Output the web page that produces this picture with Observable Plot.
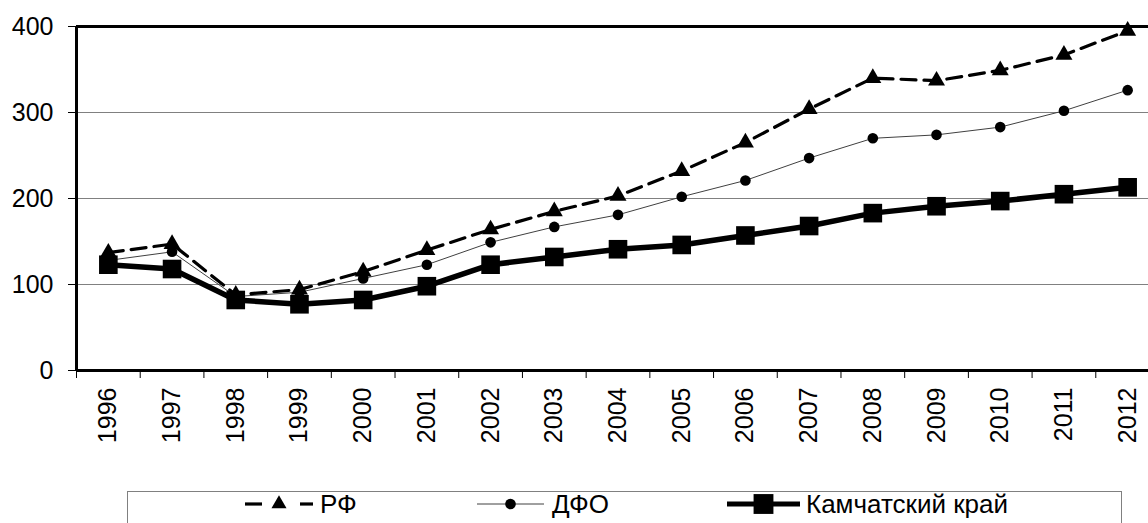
<!DOCTYPE html>
<html>
<head>
<meta charset="utf-8">
<script src="https://cdn.jsdelivr.net/npm/d3@7"></script>
<script src="https://cdn.jsdelivr.net/npm/@observablehq/plot@0.6"></script>
<style>
  html, body { margin: 0; padding: 0; background: #fff; overflow: hidden; }
  body { width: 1148px; height: 523px; position: relative; font-family: "Liberation Sans", Arial, sans-serif; color: #000; }
  #legend { position: absolute; left: 127px; top: 491px; width: 995px; height: 60px; border: 1px solid #808080; box-sizing: border-box; }
  .item { position: absolute; top: 0; height: 24px; display: flex; align-items: center; font-size: 26px; }
  .item svg { display: block; }
</style>
</head>
<body>
<div id="chart"></div>
<div id="legend"></div>
<script>
const years = [1996,1997,1998,1999,2000,2001,2002,2003,2004,2005,2006,2007,2008,2009,2010,2011,2012];
const rf   = [137,147,88,94,115,140,164,185,203,232,265,304,340,337,349,367,395];
const dfo  = [128,138,86,91,107,123,149,167,181,202,221,247,270,274,283,302,326];
const kam  = [123,118,82,77,82,98,123,132,141,146,157,168,183,191,197,205,213];
const seriesNames = ["РФ", "ДФО", "Камчатский край"];
const yTicks = [0,100,200,300,400];
const gridValues = [100,200,300];

const rows = (vals) => years.map((y, i) => ({year: y, value: vals[i]}));
const rfRows = rows(rf), dfoRows = rows(dfo), kamRows = rows(kam);
const bounds = [years[0] - 0.5, ...years.map(y => y + 0.5)];

const chart = Plot.plot({
  width: 1148,
  height: 480,
  marginLeft: 76,
  marginRight: 0,
  marginTop: 26,
  marginBottom: 110,
  style: {fontFamily: "'Liberation Sans', Arial, sans-serif", color: "#000", background: "#fff", overflow: "hidden"},
  x: {type: "linear", domain: [bounds[0], bounds[bounds.length - 1]], range: [76, 1159]},
  y: {domain: [0, 400]},
  marks: [
    Plot.ruleY(gridValues, {stroke: "#808080", strokeWidth: 1}),
    Plot.axisY({ticks: yTicks, tickSize: 8, tickPadding: 15, fontSize: 25, tickFormat: d => String(d), label: null}),
    Plot.axisX({ticks: bounds, tickSize: 8, tickFormat: () => "", label: null}),
    Plot.axisX({ticks: years, tickSize: 0, tickPadding: 17, tickRotate: -90, fontSize: 25, tickFormat: d => String(d), label: null}),
    Plot.line(dfoRows, {x: "year", y: "value", stroke: "#404040", strokeWidth: 1}),
    Plot.line(rfRows, {x: "year", y: "value", stroke: "#000", strokeWidth: 3.2, strokeDasharray: "15,8"}),
    Plot.line(kamRows, {x: "year", y: "value", stroke: "#000", strokeWidth: 5.5}),
    Plot.dot(dfoRows, {x: "year", y: "value", symbol: "circle", r: 5.3, fill: "#000", stroke: "none"}),
    Plot.dot(rfRows, {x: "year", y: "value", symbol: "triangle", r: 6.3, fill: "#000", stroke: "none"}),
    Plot.dot(kamRows, {x: "year", y: "value", symbol: "square", r: 10.5, fill: "#000", stroke: "none"}),
    Plot.ruleY([yTicks[0], yTicks[yTicks.length - 1]], {stroke: "#000", strokeWidth: 3}),
    Plot.ruleX([bounds[0]], {stroke: "#000", strokeWidth: 3})
  ]
});
document.getElementById("chart").appendChild(chart);

// Legend
const legend = document.getElementById("legend");
const items = [
  {name: seriesNames[0], left: 117, w: 68, gap: 7, sw: 3.2, sym: "triangle", r: 5.6, color: "#000", segs: [[0, 17], [55, 68]]},
  {name: seriesNames[1], left: 349, w: 67, gap: 8, sw: 1, sym: "circle", r: 5.3, color: "#404040", segs: [[0, 67]]},
  {name: seriesNames[2], left: 599, w: 73, gap: 6, sw: 5, sym: "square", r: 11.2, color: "#000", segs: [[0, 73]]}
];
const symbols = {triangle: d3.symbolTriangle, circle: d3.symbolCircle, square: d3.symbolSquare};
for (const it of items) {
  const div = document.createElement("div");
  div.className = "item";
  div.style.left = it.left + "px";
  const svg = d3.create("svg").attr("width", it.w).attr("height", 24);
  for (const [a, b] of it.segs) {
    svg.append("line").attr("x1", a).attr("x2", b).attr("y1", 12).attr("y2", 12)
      .attr("stroke", it.color).attr("stroke-width", it.sw);
  }
  svg.append("path").attr("transform", `translate(${it.w / 2},12)`)
    .attr("d", d3.symbol(symbols[it.sym], Math.PI * it.r * it.r)()).attr("fill", "#000");
  div.appendChild(svg.node());
  const span = document.createElement("span");
  span.textContent = it.name;
  span.style.marginLeft = it.gap + "px";
  div.appendChild(span);
  legend.appendChild(div);
}
</script>
</body>
</html>
